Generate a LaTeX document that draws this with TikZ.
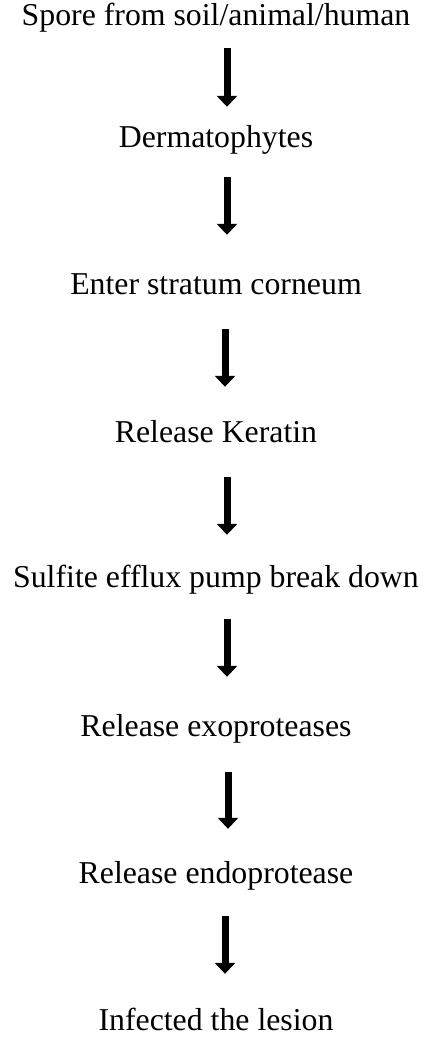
\documentclass[tikz,border=0pt]{standalone}
\usepackage{fontspec}
\setmainfont{Liberation Serif}
\usetikzlibrary{arrows.meta}
\tikzset{
  steptext/.style={anchor=base, inner sep=0pt, text height=20pt, text depth=0pt,
    font=\fontsize{31.8}{36}\selectfont},
  flowarrow/.style={line width=7pt, -{Triangle[width=20pt,length=11pt]}}
}
\begin{document}
\begin{tikzpicture}[x=1pt,y=-1pt]
      \useasboundingbox (0,0) rectangle (426,1038);
      \draw
        (216,26) node[steptext] (spore){Spore from soil/animal/human}
        (216,147) node[steptext] (derm){Dermatophytes}
        (216,294) node[steptext] (enter){Enter stratum corneum}
        (216,442) node[steptext] (keratin){Release Keratin}
        (216,587) node[steptext] (sulfite){Sulfite efflux pump break down}
        (216,736) node[steptext] (exo){Release exoproteases}
        (216,883) node[steptext] (endo){Release endoprotease}
        (216,1030) node[steptext] (lesion){Infected the lesion};
      \begin{scope}[flowarrow]
        \draw[shorten <=22pt, shorten >=20pt] ([xshift=11pt]spore.south) to ([xshift=11pt]derm.north);
        \draw[shorten <=30pt, shorten >=39pt] ([xshift=11pt]derm.south) to ([xshift=11pt]enter.north);
        \draw[shorten <=35pt, shorten >=35pt] ([xshift=9pt]enter.south) to ([xshift=9pt]keratin.north);
        \draw[shorten <=35pt, shorten >=32pt] ([xshift=11pt]keratin.south) to ([xshift=11pt]sulfite.north);
        \draw[shorten <=32pt, shorten >=39pt] ([xshift=11pt]sulfite.south) to ([xshift=11pt]exo.north);
        \draw[shorten <=36pt, shorten >=34pt] ([xshift=12pt]exo.south) to ([xshift=12pt]endo.north);
        \draw[shorten <=33pt, shorten >=36pt] ([xshift=9pt]endo.south) to ([xshift=9pt]lesion.north);
      \end{scope}
    \end{tikzpicture}
\end{document}
